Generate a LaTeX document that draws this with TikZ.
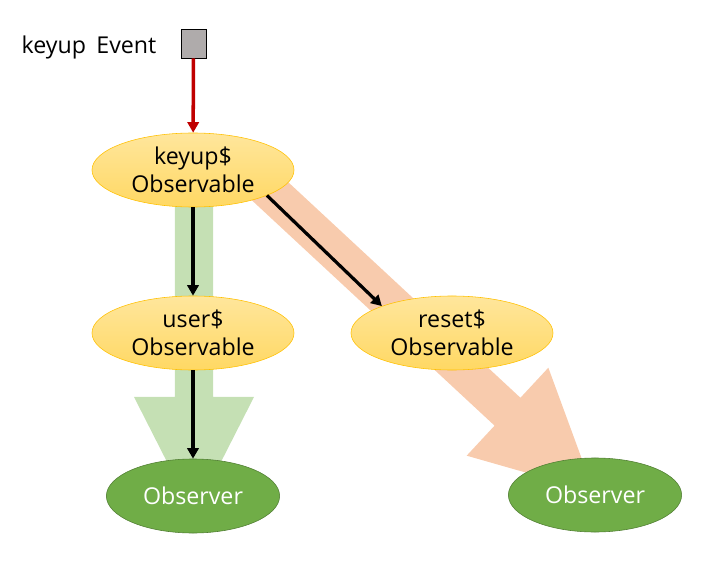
\documentclass[tikz,border=0pt]{standalone}
\usepackage{fontspec}
\setmainfont{Open Sans}
\usetikzlibrary{%
    arrows.meta,
    calc,
    positioning,
    shapes.geometric
}
\definecolor{eventgray}{HTML}{AFABAB}
\definecolor{eventred}{HTML}{C00000}
\definecolor{obstop}{HTML}{FFE69C}
\definecolor{obsbottom}{HTML}{FFD863}
\definecolor{obsline}{HTML}{FFC000}
\definecolor{subfill}{HTML}{70AD47}
\definecolor{subline}{HTML}{507E32}
\definecolor{pipegreen}{HTML}{C5E0B4}
\definecolor{pipeorange}{HTML}{F8CBAD}
\tikzset{headarrow/.style = {-{Triangle[width=8pt,length=7.5pt]}}}
\tikzset{flow/.style = {headarrow, line width=2.3pt}}
\tikzset{observable/.style = {ellipse, draw=obsline, top color=obstop, bottom color=obsbottom,
    minimum width=5.05cm, minimum height=1.85cm, inner sep=0pt, align=center}}
\tikzset{observer/.style = {ellipse, draw=subline, fill=subfill, text=white,
    minimum width=4.33cm, minimum height=1.85cm, inner sep=0pt}}

\begin{document}
\begin{tikzpicture}[x=0.025cm, y=-0.025cm, font=\fontsize{16.5}{19.5}\selectfont]
    \useasboundingbox (0,0) rectangle (717,564);

    \coordinate (gstart) at (194,190);
    \coordinate (gtip) at (194,515);
    \coordinate (ostart) at (231,155);
    \coordinate (otip) at (594,492);

    % wide pipes behind the nodes
    \foreach \Start/\Tip/\Colour in {gstart/gtip/pipegreen, ostart/otip/pipeorange} {
        \coordinate (hb) at ($(\Tip)!2.95cm!(\Start)$);
        \fill[\Colour] ($(\Start)!0.475cm!90:(\Tip)$) -- ($(hb)!0.475cm!-90:(\Start)$)
            -- ($(hb)!1.5cm!-90:(\Start)$) -- (\Tip) -- ($(hb)!1.5cm!90:(\Start)$)
            -- ($(hb)!0.475cm!90:(\Start)$) -- ($(\Start)!0.475cm!-90:(\Tip)$) -- cycle;
    }

    \node (square) [draw, fill=eventgray, minimum width=0.625cm, minimum height=0.725cm,
        inner sep=0pt] at (193.5,43.5) {};
    \node (evlabel) [left=0.6cm of square, yshift=-3pt, inner sep=0pt] {keyup\hspace{0.45em}Event};

    \node (keyup) [observable] at (193,170) {keyup\$\\Observable};
    \node (user) [observable] at (193,333) {user\$\\Observable};
    \node (reset) [observable] at (452,333) {reset\$\\Observable};

    \node (obsleft) [observer] at (193,496) {Observer};
    \node (obsright) [observer] at (595,495) {Observer};

    \draw[flow, eventred, line width=2.5pt] (square) -- (keyup);
    \foreach \Source/\Target in {keyup/user, user/obsleft, keyup.-19/reset.159}
        \draw[flow] (\Source) -- (\Target);
\end{tikzpicture}
\end{document}
